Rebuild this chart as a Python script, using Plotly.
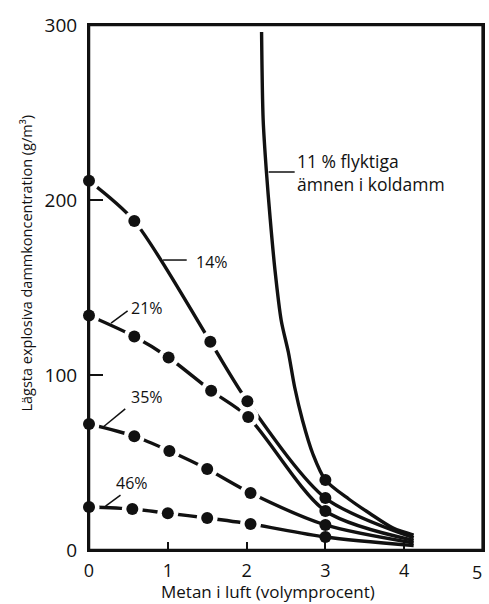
import plotly.graph_objects as go

# ---- data ----
x_11 = [2.19, 2.21, 2.25, 2.30, 2.36, 2.44, 2.53, 2.61, 2.71, 2.84, 3.0, 3.3, 3.56, 3.86, 4.12]
y_11 = [296, 246, 217, 189, 160, 131, 113, 93, 74, 55, 40, 29, 21, 12.5, 8.5]
m_11 = [False] * 10 + [True] + [False] * 4

x_14 = [0, 0.575, 1.54, 2.01, 3.0, 4.12]
y_14 = [211, 188, 119, 85, 29.7, 7]
m_14 = [True, True, True, True, True, False]

x_21 = [0, 0.575, 1.01, 1.55, 2.02, 3.0, 4.12]
y_21 = [134, 122, 110, 91, 76, 22.3, 5.5]
m_21 = [True] * 6 + [False]

x_35 = [0, 0.575, 1.02, 1.5, 2.05, 3.0, 4.12]
y_35 = [72, 65, 56.6, 46.3, 32.6, 14.3, 4]
m_35 = [True] * 6 + [False]

x_46 = [0, 0.55, 1.0, 1.5, 2.05, 3.0, 4.12]
y_46 = [24.6, 23.4, 21, 18.3, 14.9, 7.4, 2.5]
m_46 = [True] * 6 + [False]

x_ticks = [0, 1, 2, 3, 4, 5]
x_ticktext = ["0", "1", "2", "3", "4", ""]   # "5" is placed as an annotation (page edge)
y_ticks = [0, 100, 200, 300]

series = [
    ("11 %", x_11, y_11, m_11),
    ("14%", x_14, y_14, m_14),
    ("21%", x_21, y_21, m_21),
    ("35%", x_35, y_35, m_35),
    ("46%", x_46, y_46, m_46),
]

FONT = "Open Sans"
INK = "#111111"

fig = go.Figure()

# lines
for name, xs, ys, ms in series:
    fig.add_trace(go.Scatter(x=xs, y=ys, mode="lines",
                             line=dict(color=INK, width=3.4, shape="spline", smoothing=0.8),
                             hoverinfo="skip", showlegend=False, cliponaxis=False))

# white halos around the dots (only left of x=2.5)
for name, xs, ys, ms in series:
    hx = [x for x, m in zip(xs, ms) if m and x < 2.5]
    hy = [y for x, y, m in zip(xs, ys, ms) if m and x < 2.5]
    if hx:
        fig.add_trace(go.Scatter(x=hx, y=hy, mode="markers",
                                 marker=dict(color="white", size=21, line=dict(width=0)),
                                 hoverinfo="skip", showlegend=False, cliponaxis=False))

# black dots
for name, xs, ys, ms in series:
    dx = [x for x, m in zip(xs, ms) if m]
    dy = [y for y, m in zip(ys, ms) if m]
    fig.add_trace(go.Scatter(x=dx, y=dy, mode="markers", name=name,
                             marker=dict(color=INK, size=12, line=dict(width=0)),
                             showlegend=False, cliponaxis=False))

# labels with leader lines
labels = [
    ("14%", 1.56, 164.5, (0.94, 165.7, 1.24, 165.7)),
    ("21%", 0.74, 138.5, (0.28, 129.7, 0.49, 136.6)),
    ("35%", 0.73, 87.5, (0.18, 70.3, 0.46, 80.6)),
    ("46%", 0.54, 38.5, (0.21, 25.1, 0.40, 31.4)),
]
for text, tx, ty, (x0, y0, x1, y1) in labels:
    fig.add_annotation(x=tx, y=ty, text=text, showarrow=False,
                       font=dict(family=FONT, size=16, color=INK), xanchor="center", yanchor="middle")
    fig.add_shape(type="line", x0=x0, y0=y0, x1=x1, y1=y1, line=dict(color=INK, width=1.5))

fig.add_annotation(x=2.62, y=216, text="11 % flyktiga<br>ämnen i koldamm", showarrow=False,
                   align="left", xanchor="left", yanchor="middle",
                   font=dict(family=FONT, size=17.5, color=INK))
fig.add_shape(type="line", x0=2.28, y0=216, x1=2.61, y1=216, line=dict(color=INK, width=1.5))

# plot frame, with an explicit right border
fig.add_shape(type="rect", xref="paper", yref="paper", x0=0, y0=0, x1=1, y1=1,
              line=dict(color=INK, width=2.5), layer="above")
fig.add_shape(type="line", xref="x", yref="paper", x0=5, x1=5, y0=0, y1=1,
              line=dict(color=INK, width=3), layer="above")

# last x tick label, kept inside the page edge
fig.add_annotation(x=4.93, y=0, yref="y", text="5", showarrow=False, yshift=-22,
                   font=dict(family=FONT, size=18, color=INK), xanchor="center", yanchor="middle")

# axis titles as annotations
fig.add_annotation(xref="paper", yref="paper", x=-0.158, y=0.547, textangle=-90,
                   text="Lägsta explosiva dammkoncentration (g/m³)", showarrow=False,
                   font=dict(family=FONT, size=14.5, color=INK), xanchor="center", yanchor="middle")
fig.add_annotation(xref="paper", yref="paper", x=0.455, y=-0.079,
                   text="Metan i luft (volymprocent)", showarrow=False,
                   font=dict(family=FONT, size=17, color=INK), xanchor="center", yanchor="middle")

fig.update_xaxes(range=[0, 5], tickvals=x_ticks, ticktext=x_ticktext,
                 ticks="inside", ticklen=8, tickwidth=1.5, tickcolor=INK,
                 showline=True, linecolor=INK, linewidth=2, mirror=True,
                 showgrid=False, zeroline=False, ticklabelstandoff=3,
                 tickfont=dict(family=FONT, size=18, color=INK))
fig.update_yaxes(range=[0, 300], tickvals=y_ticks, ticktext=[str(t) for t in y_ticks],
                 ticks="inside", ticklen=14, tickwidth=1.5, tickcolor=INK,
                 showline=True, linecolor=INK, linewidth=2, mirror=True,
                 showgrid=False, zeroline=False, ticklabelstandoff=6,
                 tickfont=dict(family=FONT, size=19, color=INK))

fig.update_layout(width=489, height=604, margin=dict(l=89, r=4, t=25, b=54),
                  plot_bgcolor="white", paper_bgcolor="white", showlegend=False)

# remove the browser's default body margin so the figure fills the window exactly
fig.write_html("out.html", config={"displayModeBar": False},
               post_script="document.body.style.margin='0';document.body.style.overflow='hidden';")
